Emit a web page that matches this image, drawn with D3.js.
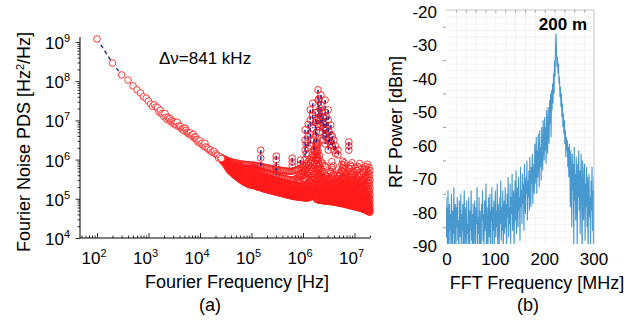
<!DOCTYPE html>
<html>
<head>
<meta charset="utf-8">
<script src="https://cdn.jsdelivr.net/npm/d3@7"></script>
<style>
  body { margin: 0; background: #fff; }
  text { font-family: "Liberation Sans", Arial, sans-serif; fill: #000; }
</style>
</head>
<body>
<svg id="chart" width="642" height="324"></svg>
<script>
// ---------------------------------------------------------------
// (a) Fourier noise PDS
// ---------------------------------------------------------------
const curveFreq = [100, 200, 300, 400, 500, 600, 700, 800, 900, 1000,
  1100, 1200, 1300, 1400, 1500, 1600, 1700, 1800, 1900, 2000,
  2100, 2200, 2300, 2400, 2500, 2600, 2700, 2800, 2900, 3000,
  3100, 3200, 3300, 3400, 3500, 3600, 3800, 4000, 4200, 4400,
  4600, 4800, 4900, 5200, 5400, 5600, 5800, 6000, 6200, 6500,
  6900, 7000, 7400, 7700, 7900, 8200, 8500, 8800, 9100, 9500,
  10000, 10500, 11000, 11500, 12000, 12500, 13000, 13800, 14500, 15500,
  16000, 17000, 18000, 19000, 20000, 21400, 22000, 23000, 24500, 26000];
const curvePsd = [1.2e9, 2.9e8, 1.45e8, 1.07e8, 7.6e7, 6.0e7, 5.0e7, 4.0e7, 3.7e7, 3.1e7,
  2.6e7, 2.3e7, 2.5e7, 2.2e7, 2.1e7, 1.65e7, 1.8e7, 1.5e7, 1.4e7, 1.25e7,
  1.5e7, 1.2e7, 1.05e7, 1.2e7, 1.1e7, 1.1e7, 9.3e6, 1.0e7, 9.2e6, 8.3e6,
  9.3e6, 8.6e6, 7.9e6, 8.7e6, 7.5e6, 9.0e6, 7.1e6, 7.2e6, 6.9e6, 6.0e6,
  6.0e6, 5.5e6, 6.4e6, 6.2e6, 5.6e6, 5.0e6, 4.8e6, 4.6e6, 4.6e6, 4.8e6,
  4.2e6, 4.0e6, 4.4e6, 3.6e6, 3.8e6, 3.7e6, 3.3e6, 3.2e6, 2.8e6, 3.0e6,
  3.0e6, 2.5e6, 2.6e6, 2.3e6, 2.2e6, 2.6e6, 2.1e6, 2.0e6, 1.85e6, 1.7e6,
  1.75e6, 1.56e6, 1.5e6, 1.6e6, 1.4e6, 1.31e6, 1.25e6, 1.1e6, 1.17e6, 1.07e6];

// dense part of the trace: [log10 f, [log10 PDS, ...]]
const band4Log = [
  [4.42, [6.05, 6.00]], [4.45, [6.02, 5.95]], [4.48, [6.01, 5.91, 5.97]],
  [4.51, [5.99, 5.86, 5.93]], [4.54, [5.97, 5.83, 5.90, 5.79]], [4.57, [5.96, 5.78, 5.88, 5.73]],
  [4.60, [5.95, 5.75, 5.85, 5.69]], [4.63, [5.93, 5.71, 5.81, 5.66]], [4.66, [5.92, 5.68, 5.79, 5.62, 5.87]],
  [4.69, [5.92, 5.64, 5.76, 5.59, 5.84]], [4.72, [5.91, 5.61, 5.73, 5.56, 5.82]],
  [4.75, [5.90, 5.58, 5.70, 5.52, 5.79, 5.64]], [4.78, [5.89, 5.54, 5.67, 5.50, 5.77, 5.61]],
  [4.81, [5.89, 5.51, 5.65, 5.47, 5.75, 5.57]], [4.84, [5.88, 5.48, 5.62, 5.44, 5.72, 5.55]],
  [4.87, [5.88, 5.45, 5.59, 5.42, 5.70, 5.52]], [4.90, [5.87, 5.43, 5.56, 5.40, 5.68, 5.49]],
  [4.93, [5.87, 5.41, 5.54, 5.38, 5.65, 5.46, 5.77]], [4.96, [5.86, 5.39, 5.51, 5.36, 5.63, 5.44, 5.75]],
  [4.99, [5.86, 5.37, 5.49, 5.35, 5.61, 5.42, 5.73]]
];
const band5Log = [
  [5.02, [5.87, 5.36, 5.50, 5.63, 5.76, 5.43]], [5.05, [5.85, 5.34, 5.46, 5.59, 5.72]],
  [5.08, [5.85, 5.33, 5.45, 5.57, 5.70, 5.39]], [5.11, [5.84, 5.31, 5.43, 5.55, 5.67]],
  [5.14, [5.83, 5.30, 5.41, 5.53, 5.65, 5.36]], [5.17, [5.82, 5.29, 5.40, 5.51, 5.63]],
  [5.20, [5.82, 5.28, 5.38, 5.49, 5.61, 5.33]], [5.23, [5.81, 5.26, 5.37, 5.48, 5.59]],
  [5.26, [5.80, 5.25, 5.35, 5.46, 5.58, 5.30]], [5.29, [5.79, 5.24, 5.34, 5.45, 5.56]],
  [5.32, [5.79, 5.23, 5.33, 5.43, 5.55, 5.28]], [5.35, [5.78, 5.22, 5.31, 5.42, 5.53]],
  [5.38, [5.77, 5.21, 5.30, 5.40, 5.52, 5.25]], [5.41, [5.76, 5.20, 5.29, 5.39, 5.50]],
  [5.44, [5.76, 5.19, 5.28, 5.37, 5.49, 5.23]], [5.47, [5.75, 5.18, 5.27, 5.36, 5.47]],
  [5.50, [5.74, 5.17, 5.26, 5.35, 5.46, 5.21]], [5.53, [5.73, 5.16, 5.25, 5.34, 5.45]],
  [5.56, [5.73, 5.15, 5.24, 5.33, 5.44, 5.19]], [5.59, [5.72, 5.14, 5.23, 5.32, 5.43]],
  [5.62, [5.72, 5.13, 5.22, 5.31, 5.42, 5.17]], [5.65, [5.71, 5.12, 5.21, 5.30, 5.41]],
  [5.68, [5.71, 5.11, 5.20, 5.29, 5.40, 5.15]], [5.71, [5.70, 5.10, 5.19, 5.28, 5.39]],
  [5.74, [5.70, 5.09, 5.18, 5.27, 5.38, 5.13]], [5.77, [5.70, 5.08, 5.17, 5.26, 5.37]],
  [5.80, [5.71, 5.07, 5.16, 5.25, 5.36, 5.11]], [5.83, [5.72, 5.06, 5.15, 5.24, 5.35]],
  [5.86, [5.73, 5.05, 5.14, 5.23, 5.34, 5.09]], [5.89, [5.74, 5.05, 5.14, 5.23, 5.33, 5.46]],
  [5.92, [5.76, 5.04, 5.13, 5.22, 5.33, 5.48]], [5.95, [5.78, 5.04, 5.13, 5.22, 5.34, 5.55]],
  [5.98, [5.80, 5.03, 5.12, 5.22, 5.35, 5.58]]
];
const band6Log = [
  [6.01, [5.82, 5.03, 5.12, 5.22, 5.36, 5.60]], [6.04, [5.85, 5.02, 5.11, 5.21, 5.35, 5.62]],
  [6.07, [5.90, 5.02, 5.11, 5.22, 5.38, 5.66]], [6.10, [5.95, 5.03, 5.12, 5.24, 5.42, 5.70]],
  [6.13, [6.00, 5.04, 5.14, 5.27, 5.46, 5.75]], [6.16, [6.05, 5.06, 5.17, 5.30, 5.50, 5.80]],
  [6.19, [6.12, 5.08, 5.20, 5.34, 5.56, 5.86]], [6.22, [6.20, 5.10, 5.23, 5.38, 5.62, 5.92]],
  [6.25, [6.35, 5.12, 5.26, 5.44, 5.70, 6.00, 6.18]],
  [6.27, [6.50, 5.00, 5.20, 5.40, 5.65, 5.90, 6.10, 6.30]],
  [6.29, [6.40, 4.98, 5.18, 5.36, 5.58, 5.82, 6.05, 6.22]],
  [6.32, [6.10, 4.97, 5.08, 5.22, 5.40, 5.62, 5.88]], [6.35, [5.95, 4.96, 5.06, 5.18, 5.34, 5.55, 5.76]],
  [6.38, [5.90, 4.95, 5.05, 5.16, 5.30, 5.48, 5.70]], [6.41, [5.85, 4.95, 5.04, 5.14, 5.27, 5.44, 5.64]],
  [6.44, [5.82, 4.94, 5.03, 5.13, 5.25, 5.40, 5.60]], [6.47, [4.94, 5.02, 5.12, 5.24, 5.38, 5.56]],
  [6.50, [4.94, 5.01, 5.10, 5.21, 5.35, 5.52]], [6.53, [4.93, 5.00, 5.09, 5.20, 5.33, 5.50, 5.70]],
  [6.56, [4.93, 5.01, 5.11, 5.23, 5.38, 5.58, 5.80, 5.95]], [6.59, [4.92, 5.02, 5.13, 5.26, 5.42, 5.62, 5.84]],
  [6.62, [4.92, 5.00, 5.09, 5.20, 5.33, 5.50]], [6.65, [4.91, 4.98, 5.07, 5.17, 5.29, 5.45]],
  [6.68, [4.90, 4.97, 5.06, 5.16, 5.28, 5.42, 5.60]], [6.71, [4.89, 4.97, 5.07, 5.18, 5.31, 5.47, 5.66]],
  [6.74, [4.88, 4.97, 5.08, 5.20, 5.34, 5.52, 5.72]], [6.77, [4.88, 4.98, 5.10, 5.23, 5.39, 5.58, 5.80, 5.96]],
  [6.80, [4.87, 4.97, 5.08, 5.21, 5.36, 5.54, 5.76, 5.92]], [6.83, [4.86, 4.94, 5.03, 5.14, 5.27, 5.42, 5.60]],
  [6.86, [4.85, 4.92, 5.01, 5.11, 5.23, 5.37, 5.54]], [6.89, [4.84, 4.92, 5.01, 5.12, 5.25, 5.40, 5.58, 5.78]],
  [6.92, [4.83, 4.92, 5.02, 5.14, 5.28, 5.45, 5.65, 5.86]], [6.95, [4.82, 4.92, 5.03, 5.16, 5.31, 5.49, 5.70, 5.92]],
  [6.98, [4.81, 4.89, 4.98, 5.09, 5.22, 5.37, 5.55]], [7.01, [4.80, 4.87, 4.96, 5.06, 5.18, 5.32, 5.48]],
  [7.04, [4.79, 4.87, 4.96, 5.07, 5.20, 5.35, 5.52, 5.72]], [7.07, [4.78, 4.87, 4.97, 5.09, 5.23, 5.40, 5.60, 5.82]],
  [7.10, [4.77, 4.87, 4.98, 5.11, 5.26, 5.44, 5.66, 5.90]], [7.13, [4.76, 4.84, 4.93, 5.04, 5.17, 5.32, 5.50]],
  [7.16, [4.74, 4.82, 4.91, 5.02, 5.15, 5.30, 5.47]], [7.19, [4.73, 4.81, 4.91, 5.03, 5.17, 5.34, 5.54, 5.76]],
  [7.22, [4.71, 4.80, 4.91, 5.04, 5.19, 5.37, 5.58, 5.82]], [7.25, [4.69, 4.79, 4.91, 5.05, 5.21, 5.40, 5.62, 5.88]],
  [7.28, [4.67, 4.76, 4.87, 5.00, 5.15, 5.33, 5.55, 5.80]], [7.30, [4.66, 4.74, 4.84, 4.96, 5.10, 5.27, 5.48, 5.72]]
];
// points lying between the columns above
const bandFillLog = [
  [4.435, [5.97, 6.03]], [4.465, [5.93, 5.99]], [4.495, [5.88, 5.95]], [4.525, [5.82, 5.88, 5.95]],
  [4.555, [5.76, 5.85, 5.93]], [4.585, [5.71, 5.80, 5.91]], [4.615, [5.68, 5.77, 5.89]],
  [4.645, [5.64, 5.74, 5.85]], [4.675, [5.60, 5.71, 5.83]], [4.705, [5.57, 5.68, 5.80]],
  [4.735, [5.54, 5.66, 5.77, 5.86]], [4.765, [5.51, 5.62, 5.74, 5.84]], [4.795, [5.48, 5.59, 5.71, 5.82]],
  [4.825, [5.46, 5.58, 5.69, 5.80]], [4.855, [5.43, 5.54, 5.66, 5.78]], [4.885, [5.41, 5.51, 5.63, 5.76]],
  [4.915, [5.39, 5.48, 5.60, 5.73]], [4.945, [5.37, 5.46, 5.58, 5.71]], [4.975, [5.36, 5.45, 5.56, 5.69]],
  [5.005, [5.35, 5.43, 5.55, 5.68, 5.81]], [5.035, [5.34, 5.41, 5.52, 5.65, 5.79]],
  [5.065, [5.33, 5.40, 5.50, 5.62, 5.77]], [5.095, [5.31, 5.38, 5.48, 5.60, 5.76]],
  [5.125, [5.30, 5.37, 5.46, 5.58, 5.74]], [5.155, [5.29, 5.35, 5.44, 5.56, 5.72]],
  [5.185, [5.28, 5.34, 5.43, 5.54, 5.71]], [5.215, [5.27, 5.32, 5.41, 5.53, 5.69]],
  [5.245, [5.25, 5.31, 5.40, 5.51, 5.68]], [5.275, [5.24, 5.30, 5.39, 5.50, 5.66]],
  [5.305, [5.23, 5.28, 5.37, 5.48, 5.65]], [5.335, [5.22, 5.27, 5.36, 5.47, 5.64]],
  [5.365, [5.21, 5.26, 5.35, 5.46, 5.62]], [5.395, [5.20, 5.25, 5.34, 5.44, 5.61]],
  [5.425, [5.19, 5.24, 5.33, 5.43, 5.60]], [5.455, [5.18, 5.23, 5.32, 5.42, 5.59]],
  [5.485, [5.17, 5.22, 5.31, 5.41, 5.57]], [5.515, [5.16, 5.21, 5.30, 5.40, 5.56]],
  [5.545, [5.15, 5.20, 5.29, 5.39, 5.55]], [5.575, [5.14, 5.19, 5.28, 5.38, 5.54]],
  [5.605, [5.13, 5.18, 5.27, 5.37, 5.53]], [5.635, [5.12, 5.17, 5.26, 5.36, 5.52]],
  [5.665, [5.11, 5.16, 5.25, 5.35, 5.51]], [5.695, [5.10, 5.15, 5.24, 5.34, 5.50]],
  [5.725, [5.09, 5.14, 5.23, 5.33, 5.49]], [5.755, [5.08, 5.13, 5.22, 5.32, 5.48]],
  [5.785, [5.07, 5.12, 5.21, 5.31, 5.48]], [5.815, [5.06, 5.11, 5.20, 5.30, 5.49]],
  [5.845, [5.06, 5.10, 5.19, 5.29, 5.50]], [5.875, [5.05, 5.09, 5.18, 5.28, 5.52]],
  [5.905, [5.05, 5.09, 5.18, 5.28, 5.55]], [5.935, [5.04, 5.08, 5.17, 5.28, 5.60]],
  [5.965, [5.04, 5.08, 5.17, 5.29, 5.64]], [5.995, [5.03, 5.07, 5.17, 5.30, 5.68]],
  [6.025, [5.03, 5.07, 5.17, 5.30, 5.50, 5.72]], [6.055, [5.02, 5.07, 5.17, 5.31, 5.52, 5.76]],
  [6.085, [5.02, 5.07, 5.18, 5.33, 5.55, 5.80]], [6.115, [5.03, 5.08, 5.19, 5.35, 5.60, 5.86]],
  [6.145, [5.04, 5.10, 5.21, 5.38, 5.64, 5.92]], [6.175, [5.06, 5.12, 5.24, 5.42, 5.70, 5.98]],
  [6.205, [5.08, 5.14, 5.28, 5.47, 5.76, 6.06]], [6.235, [5.05, 5.14, 5.30, 5.52, 5.82, 6.12]],
  [6.26, [4.99, 5.10, 5.28, 5.50, 5.78, 6.04, 6.25, 6.42]], [6.28, [4.98, 5.08, 5.25, 5.48, 5.74, 5.98, 6.18, 6.38]],
  [6.305, [4.97, 5.04, 5.14, 5.30, 5.50, 5.75, 6.00]], [6.335, [4.96, 5.02, 5.12, 5.26, 5.46, 5.68]],
  [6.365, [4.96, 5.01, 5.10, 5.22, 5.40, 5.62]], [6.395, [4.95, 5.00, 5.09, 5.20, 5.36, 5.56]],
  [6.425, [4.95, 4.99, 5.08, 5.19, 5.33, 5.52]], [6.455, [4.94, 4.98, 5.07, 5.18, 5.31, 5.48]],
  [6.485, [4.94, 4.98, 5.06, 5.16, 5.29, 5.45]], [6.515, [4.93, 4.97, 5.05, 5.15, 5.27, 5.42]],
  [6.545, [4.93, 4.97, 5.06, 5.17, 5.30, 5.48, 5.68]], [6.575, [4.92, 4.97, 5.07, 5.19, 5.33, 5.52, 5.74]],
  [6.605, [4.92, 4.96, 5.04, 5.14, 5.26, 5.40]], [6.635, [4.91, 4.95, 5.02, 5.12, 5.23, 5.36]],
  [6.665, [4.90, 4.94, 5.02, 5.11, 5.22, 5.35, 5.52]], [6.695, [4.89, 4.93, 5.02, 5.12, 5.24, 5.39, 5.57]],
  [6.725, [4.89, 4.93, 5.02, 5.13, 5.26, 5.43, 5.62]], [6.755, [4.88, 4.93, 5.03, 5.15, 5.30, 5.48, 5.70, 5.88]],
  [6.785, [4.87, 4.92, 5.03, 5.15, 5.30, 5.47, 5.68, 5.86]], [6.815, [4.86, 4.91, 4.99, 5.09, 5.21, 5.35, 5.52]],
  [6.845, [4.85, 4.89, 4.97, 5.06, 5.17, 5.30, 5.46]], [6.875, [4.84, 4.88, 4.96, 5.06, 5.18, 5.32, 5.49, 5.68]],
  [6.905, [4.83, 4.88, 4.97, 5.08, 5.21, 5.37, 5.55, 5.76]], [6.935, [4.82, 4.87, 4.97, 5.09, 5.23, 5.40, 5.60, 5.82]],
  [6.965, [4.81, 4.86, 4.94, 5.04, 5.16, 5.30, 5.46]], [6.995, [4.80, 4.84, 4.92, 5.01, 5.12, 5.25, 5.40]],
  [7.025, [4.79, 4.83, 4.91, 5.01, 5.13, 5.27, 5.44, 5.62]], [7.055, [4.78, 4.82, 4.92, 5.03, 5.16, 5.31, 5.50, 5.72]],
  [7.085, [4.77, 4.82, 4.92, 5.04, 5.18, 5.35, 5.55, 5.78]], [7.115, [4.76, 4.80, 4.88, 4.98, 5.10, 5.24, 5.41]],
  [7.145, [4.75, 4.78, 4.86, 4.96, 5.08, 5.22, 5.38]], [7.175, [4.73, 4.77, 4.86, 4.97, 5.10, 5.26, 5.44, 5.66]],
  [7.205, [4.72, 4.76, 4.86, 4.98, 5.12, 5.29, 5.48, 5.70]], [7.235, [4.70, 4.75, 4.85, 4.98, 5.13, 5.31, 5.52, 5.75]],
  [7.265, [4.68, 4.73, 4.83, 4.95, 5.09, 5.26, 5.46, 5.68]], [7.29, [4.66, 4.71, 4.80, 4.91, 5.04, 5.20, 5.40, 5.62]]
];
// spurs standing above the floor: [log10 f, [log10 PDS, ...]]
const spurLog = [
  [5.18, [6.24, 6.04, 5.84]], [5.48, [6.09, 5.99, 5.81, 5.61]], [5.79, [6.04, 5.94, 5.84]],
  [5.95, [5.99, 5.88]], [6.04, [6.76, 6.50, 6.24, 6.00]], [6.06, [6.40, 6.15]],
  [6.10, [6.90, 6.60, 6.30]], [6.14, [7.27, 7.01, 6.63, 6.35]], [6.19, [7.44, 7.14, 6.80]],
  [6.21, [6.50, 6.25]], [6.24, [7.20, 6.95, 6.60]], [6.26, [7.00, 6.70, 6.45]],
  [6.29, [7.78, 7.52, 7.21, 6.90]], [6.31, [7.55, 7.05]], [6.33, [7.30, 7.00, 6.70]],
  [6.35, [7.65, 7.39, 6.88]], [6.37, [7.20, 6.95]], [6.39, [7.10, 6.80, 6.50]],
  [6.41, [6.90, 6.60]], [6.43, [7.52, 7.21, 6.76, 6.40]], [6.46, [7.10, 6.80, 6.55]],
  [6.49, [7.27, 7.01, 6.50, 6.24]], [6.51, [6.70, 6.45]], [6.54, [6.88, 6.63, 6.37]],
  [6.57, [6.60, 6.35]], [6.60, [6.50, 6.24]], [6.63, [6.35, 6.15]], [6.68, [6.24, 6.12]],
  [6.89, [6.45, 6.35, 6.24]]
];
const pdsTicksA = [2, 3, 4, 5, 6, 7];   // x decades
const pdsTicksY = [4, 5, 6, 7, 8, 9];   // y decades

// ---------------------------------------------------------------
// (b) RF spectrum, 1 MHz steps from 0 MHz
// ---------------------------------------------------------------
const rfStartMHz = 0, rfStepMHz = 1;
const rfPower = [
  -76, -88, -79, -92, -74, -84, -95, -78, -86, -81,
  -90, -75, -83, -97, -80, -87, -73, -91, -82, -78,
  -94, -79, -85, -76, -89, -83, -96, -77, -84, -88,
  -75, -92, -81, -86, -78, -99, -82, -74, -90, -85,
  -79, -93, -77, -87, -84, -91, -76, -83, -95, -80,
  -86, -74, -89, -81, -97, -78, -85, -92, -77, -83,
  -90, -79, -84, -73, -94, -82, -87, -76, -91, -80,
  -85, -96, -78, -83, -74, -89, -81, -93, -77, -86,
  -82, -72, -90, -79, -85, -95, -76, -84, -88, -75,
  -92, -80, -83, -73, -98, -79, -86, -77, -91, -82,
  -74, -88, -80, -85, -72, -94, -78, -83, -90, -76,
  -84, -71, -89, -79, -86, -74, -93, -80, -77, -87,
  -73, -85, -78, -91, -75, -82, -70, -88, -79, -84,
  -72, -90, -76, -81, -69, -86, -78, -74, -92, -80,
  -71, -83, -68, -87, -77, -73, -85, -70, -80, -76,
  -89, -67, -79, -74, -84, -69, -78, -72, -86, -66,
  -77, -81, -70, -75, -65, -83, -71, -76, -68, -80,
  -64, -74, -79, -67, -72, -63, -78, -70, -66, -75,
  -60, -72, -66, -58, -75, -62, -70, -57, -64, -73,
  -56, -67, -61, -71, -55, -63, -68, -53, -60, -65,
  -52, -62, -55, -66, -50, -58, -63, -49, -56, -60,
  -47, -54, -45, -58, -44, -50, -42, -48, -39, -45,
  -35, -40, -31, -27, -33, -37, -34, -39, -36, -42,
  -40, -46, -43, -49, -45, -52, -48, -55, -51, -57,
  -53, -60, -56, -64, -58, -62, -59, -67, -61, -70,
  -60, -66, -79, -62, -71, -85, -63, -74, -66, -90,
  -61, -77, -69, -83, -64, -73, -92, -66, -76, -62,
  -80, -68, -87, -71, -63, -78, -94, -65, -75, -83,
  -68, -66, -89, -72, -79, -67, -85, -70, -96, -73,
  -69, -82, -76, -91, -71, -80, -67, -86, -74, -93,
  -70
];
const rfTicksX = [0, 100, 200, 300];
const rfTicksY = [-20, -30, -40, -50, -60, -70, -80, -90];

const svg = d3.select('#chart');
const FS = 17;

// ===================== (a) =====================
const xA = d3.scaleLog().domain([1e2, 1e7]).range([97, 354.5]);
const yA = d3.scaleLog().domain([1e4, 1e9]).range([238, 42]);
const gA = svg.append('g');

const minorX = [], minorY = [];
for (let d = 1; d <= 7; d++) for (let m = 2; m <= 9; m++) {
  const v = m * Math.pow(10, d);
  if (v > 46 && v < 2.1e7) minorX.push(v);
}
for (let d = 4; d <= 9; d++) for (let m = 2; m <= 9; m++) {
  const v = m * Math.pow(10, d);
  if (v < 1.3e9) minorY.push(v);
}
const decX = pdsTicksA.map(e => Math.pow(10, e));
const decY = pdsTicksY.map(e => Math.pow(10, e));

function styleAxis(g) {
  g.select('.domain').remove();
  g.selectAll('line').attr('stroke', '#000').attr('stroke-width', 0.8);
}
gA.append('g').attr('transform', 'translate(80,0)')
  .call(d3.axisLeft(yA).tickValues(minorY).tickSize(2.5).tickFormat('')).call(styleAxis);
gA.append('g').attr('transform', 'translate(80,0)')
  .call(d3.axisLeft(yA).tickValues(decY).tickSize(4.5).tickFormat('')).call(styleAxis);
gA.append('g').attr('transform', 'translate(0,238)')
  .call(d3.axisTop(xA).tickValues(minorX).tickSize(2.5).tickFormat('')).call(styleAxis);
gA.append('g').attr('transform', 'translate(0,238)')
  .call(d3.axisTop(xA).tickValues(decX).tickSize(5).tickFormat('')).call(styleAxis);

gA.append('line').attr('x1', 80).attr('x2', 80).attr('y1', 37).attr('y2', 238)
  .attr('stroke', '#000').attr('stroke-width', 1);
gA.append('line').attr('x1', 80).attr('x2', 370).attr('y1', 238).attr('y2', 238)
  .attr('stroke', '#000').attr('stroke-width', 1);

function powLabel(g, x, y, exp, anchor) {
  const t = g.append('text').attr('x', x).attr('y', y)
    .attr('text-anchor', anchor).style('font-size', FS + 'px');
  t.append('tspan').text('10');
  t.append('tspan').attr('dy', -7).style('font-size', '11px').text(exp);
}
pdsTicksY.forEach(e => powLabel(gA, 70, yA(Math.pow(10, e)) + 7, e, 'end'));
pdsTicksA.forEach(e => powLabel(gA, xA(Math.pow(10, e)) - 3, 264, e, 'middle'));

// trace
const navy = '#1a1f8f';
const red = '#ff1a1a';
const R = 3.3;
const lineA = d3.line().x(d => xA(d[0])).y(d => yA(d[1]));
const curvePts = curveFreq.map((f, i) => [f, curvePsd[i]]);
gA.append('path').attr('d', lineA(curvePts)).attr('fill', 'none')
  .attr('stroke', navy).attr('stroke-width', 1.3).attr('stroke-dasharray', '4,3');

const bandPts = [];
[band4Log, band5Log, band6Log, bandFillLog].forEach(b => b.forEach(([lf, arr]) => {
  arr.forEach(ls => bandPts.push([Math.pow(10, lf), Math.pow(10, ls)]));
}));
gA.append('g').selectAll('circle').data(bandPts).join('circle')
  .attr('cx', d => xA(d[0])).attr('cy', d => yA(d[1])).attr('r', R)
  .attr('fill', 'none').attr('stroke', red).attr('stroke-width', 0.85);

gA.append('g').selectAll('circle').data(curvePts).join('circle')
  .attr('cx', d => xA(d[0])).attr('cy', d => yA(d[1])).attr('r', R)
  .attr('fill', '#fff').attr('stroke', red).attr('stroke-width', 0.85);

spurLog.forEach(([lf, arr]) => {
  const pts = arr.map(ls => [Math.pow(10, lf), Math.pow(10, ls)]);
  gA.append('path').attr('d', lineA(pts)).attr('fill', 'none')
    .attr('stroke', navy).attr('stroke-width', 1.5).attr('stroke-dasharray', '4,2');
  gA.append('g').selectAll('circle').data(pts).join('circle')
    .attr('cx', d => xA(d[0])).attr('cy', d => yA(d[1])).attr('r', R)
    .attr('fill', 'none').attr('stroke', red).attr('stroke-width', 0.9);
});

gA.append('text').attr('x', 159).attr('y', 64).style('font-size', FS + 'px').text('Δν=841 kHz');

const yt = gA.append('text').attr('transform', 'translate(30,142) rotate(-90)')
  .attr('text-anchor', 'middle').style('font-size', '18px');
yt.append('tspan').text('Fourier Noise PDS [Hz');
yt.append('tspan').attr('dy', -6).style('font-size', '11px').text('2');
yt.append('tspan').attr('dy', 6).text('/Hz]');
gA.append('text').attr('x', 237).attr('y', 288).attr('text-anchor', 'middle')
  .style('font-size', '18px').text('Fourier Frequency [Hz]');
gA.append('text').attr('x', 210).attr('y', 311).attr('text-anchor', 'middle')
  .style('font-size', '18px').text('(a)');

// ===================== (b) =====================
const xB = d3.scaleLinear().domain([0, 300]).range([446, 594]);
const yB = d3.scaleLinear().domain([-90, -20]).range([244, 10]);
const gB = svg.append('g');

// grid
gB.append('g').attr('transform', `translate(0,${yB(-90)})`)
  .call(d3.axisBottom(xB).tickValues(d3.range(20, 300, 20)).tickSize(-(yB(-90) - yB(-20))).tickFormat(''))
  .call(g => { g.select('.domain').remove(); g.selectAll('line').attr('stroke', '#ececec').attr('stroke-width', 0.7); });
gB.append('g').attr('transform', `translate(${xB(0)},0)`)
  .call(d3.axisLeft(yB).tickValues(d3.range(-88, -20, 2)).tickSize(-(xB(300) - xB(0))).tickFormat(''))
  .call(g => { g.select('.domain').remove(); g.selectAll('line').attr('stroke', '#ececec').attr('stroke-width', 0.7); });
// small grey ticks left and top
gB.append('g').attr('transform', `translate(${xB(0)},0)`)
  .call(d3.axisLeft(yB).tickValues([-25, -35, -45, -55, -65, -75, -85]).tickSize(3).tickFormat(''))
  .call(g => { g.select('.domain').remove(); g.selectAll('line').attr('stroke', '#999'); });
gB.append('g').attr('transform', `translate(0,${yB(-20)})`)
  .call(d3.axisBottom(xB).tickValues(d3.range(20, 300, 20)).tickSize(2.5).tickFormat(''))
  .call(g => { g.select('.domain').remove(); g.selectAll('line').attr('stroke', '#999'); });

gB.append('defs').append('clipPath').attr('id', 'clipB').append('rect')
  .attr('x', xB(0)).attr('y', yB(-20)).attr('width', xB(300) - xB(0)).attr('height', yB(-90) - yB(-20));

const rfPts = rfPower.map((v, i) => [rfStartMHz + i * rfStepMHz, v]);
const lineB = d3.line().x(d => xB(d[0])).y(d => yB(d[1]));
gB.append('path').attr('d', lineB(rfPts)).attr('clip-path', 'url(#clipB)')
  .attr('fill', 'none').attr('stroke', '#0072bd').attr('stroke-width', 1.1).attr('stroke-opacity', 0.72);

gB.append('path')
  .attr('d', `M${xB(0)},${yB(-20)}H${xB(300)}V${yB(-90)}`)
  .attr('fill', 'none').attr('stroke', '#b5b5b5').attr('stroke-width', 0.8);

rfTicksY.forEach(v => gB.append('text').attr('x', 437).attr('y', yB(v) + 8)
  .attr('text-anchor', 'end').style('font-size', FS + 'px').text(v));
rfTicksX.forEach(v => gB.append('text').attr('x', xB(v) + (v === 0 ? 1 : 0)).attr('y', 265)
  .attr('text-anchor', 'middle').style('font-size', FS + 'px').text(v));

gB.append('text').attr('x', 587).attr('y', 30).attr('text-anchor', 'end')
  .style('font-size', '17px').style('font-weight', 'bold').text('200 m');

gB.append('text').attr('transform', 'translate(402,122) rotate(-90)')
  .attr('text-anchor', 'middle').style('font-size', '18px').text('RF Power [dBm]');
gB.append('text').attr('x', 537).attr('y', 289).attr('text-anchor', 'middle')
  .style('font-size', '18px').text('FFT Frequency [MHz]');
gB.append('text').attr('x', 528).attr('y', 311).attr('text-anchor', 'middle')
  .style('font-size', '18px').text('(b)');
</script>
</body>
</html>
